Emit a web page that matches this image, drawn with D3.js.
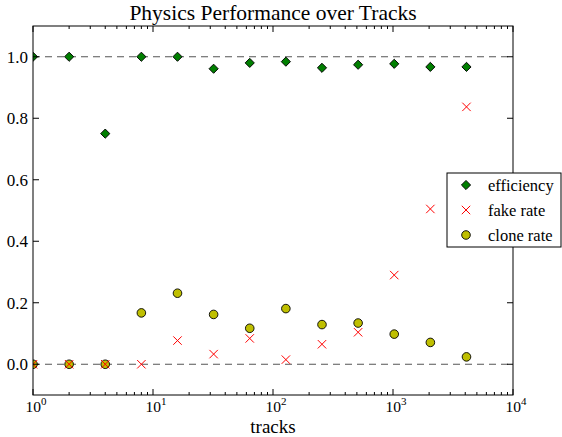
<!DOCTYPE html>
<html>
<head>
<meta charset="utf-8">
<script src="https://cdn.jsdelivr.net/npm/d3@7"></script>
<style>
  body { margin: 0; background: #fff; }
  text { font-family: "Liberation Serif", "DejaVu Serif", serif; }
</style>
</head>
<body>
<svg width="562" height="437"></svg>
<script>
const [WIDTH, HEIGHT] = [562, 437]

// data
const tracks = [1, 2, 4, 8, 16, 32, 64, 128, 256, 512, 1024, 2048, 4096]
const efficiency = [1.0, 1.0, 0.75, 1.0, 1.0, 0.961, 0.980, 0.984, 0.964, 0.974, 0.977, 0.967, 0.967]
const fakeRate = [0, 0, 0, 0, 0.077, 0.033, 0.084, 0.015, 0.065, 0.104, 0.290, 0.505, 0.837]
const cloneRate = [0, 0, 0, 0.167, 0.231, 0.162, 0.117, 0.181, 0.129, 0.134, 0.098, 0.071, 0.024]
const yTicks = [0.0, 0.2, 0.4, 0.6, 0.8, 1.0]
const xTicks = [1, 10, 100, 1000, 10000]
const refLines = [0, 1]
const legendItems = ["efficiency", "fake rate", "clone rate"]

const margin = { left: 33, right: 49, top: 26, bottom: 42 }
const pw = WIDTH - margin.left - margin.right
const ph = HEIGHT - margin.top - margin.bottom

const svg = d3.select("svg")
const x = d3.scaleLog().domain([1, 10000]).range([0, pw])
const y = d3.scaleLinear().domain([-0.1, 1.1]).range([ph, 0])

const g = svg.append("g").attr("transform", `translate(${margin.left},${margin.top})`)

svg.append("defs").append("clipPath").attr("id", "clip")
    .append("rect").attr("width", pw).attr("height", ph)

// minor ticks for log axis
const minor = []
for (let d = 1; d < 10000; d *= 10) {
    for (let k = 2; k <= 9; k++) minor.push(d * k)
}

// reference dashed lines
g.selectAll(".ref").data(refLines).enter().append("line")
    .attr("x1", 0).attr("x2", pw)
    .attr("y1", d => y(d)).attr("y2", d => y(d))
    .attr("stroke", "#555").attr("stroke-width", 1.2)
    .attr("stroke-dasharray", "7,5")

const plot = g.append("g").attr("clip-path", "url(#clip)")

// clone rate - yellow circles
plot.selectAll(".clone").data(tracks).enter().append("circle")
    .attr("cx", d => x(d)).attr("cy", (d, i) => y(cloneRate[i]))
    .attr("r", 4.3)
    .attr("fill", "#bfbf00").attr("stroke", "#000").attr("stroke-width", 0.9)

// fake rate - red crosses
const cross = d3.symbol().type(d3.symbolX).size(48)
plot.selectAll(".fake").data(tracks).enter().append("path")
    .attr("transform", (d, i) => `translate(${x(d)},${y(fakeRate[i])})`)
    .attr("d", cross)
    .attr("fill", "none").attr("stroke", "#ff0000").attr("stroke-width", 1)

// efficiency - green diamonds
const diamond = d3.symbol().type(d3.symbolSquare).size(42)
plot.selectAll(".eff").data(tracks).enter().append("path")
    .attr("transform", (d, i) => `translate(${x(d)},${y(efficiency[i])}) rotate(45)`)
    .attr("d", diamond)
    .attr("fill", "#007f00").attr("stroke", "#000").attr("stroke-width", 0.9)

// frame
g.append("rect").attr("width", pw).attr("height", ph)
    .attr("fill", "none").attr("stroke", "#000").attr("stroke-width", 1)

// ticks inward on all sides
const tickG = g.append("g").attr("stroke", "#000").attr("stroke-width", 1)
xTicks.forEach(t => {
    tickG.append("line").attr("x1", x(t)).attr("x2", x(t)).attr("y1", ph).attr("y2", ph - 6)
    tickG.append("line").attr("x1", x(t)).attr("x2", x(t)).attr("y1", 0).attr("y2", 6)
})
minor.forEach(t => {
    tickG.append("line").attr("x1", x(t)).attr("x2", x(t)).attr("y1", ph).attr("y2", ph - 3)
    tickG.append("line").attr("x1", x(t)).attr("x2", x(t)).attr("y1", 0).attr("y2", 3)
})
yTicks.forEach(t => {
    tickG.append("line").attr("x1", 0).attr("x2", 6).attr("y1", y(t)).attr("y2", y(t))
    tickG.append("line").attr("x1", pw).attr("x2", pw - 6).attr("y1", y(t)).attr("y2", y(t))
})

// y tick labels
g.selectAll(".ylab").data(yTicks).enter().append("text")
    .attr("x", -5).attr("y", d => y(d)).attr("dy", "0.35em")
    .attr("text-anchor", "end").attr("font-size", 17)
    .text(d => d.toFixed(1))

// x tick labels 10^n
const xl = g.selectAll(".xlab").data(xTicks).enter().append("text")
    .attr("x", d => x(d) + 3).attr("y", ph + 17)
    .attr("text-anchor", "middle").attr("font-size", 15.5)
xl.append("tspan").text("10")
xl.append("tspan").attr("dy", -7).attr("font-size", 11).text(d => Math.round(Math.log10(d)))

// axis label and title
svg.append("text").attr("x", margin.left + pw / 2).attr("y", HEIGHT - 4)
    .attr("text-anchor", "middle").attr("font-size", 19).text("tracks")
svg.append("text").attr("x", margin.left + pw / 2).attr("y", 20)
    .attr("text-anchor", "middle").attr("font-size", 21.5).text("Physics Performance over Tracks")

// legend
const lg = svg.append("g").attr("transform", "translate(447,173)")
lg.append("rect").attr("width", 114).attr("height", 74)
    .attr("fill", "#fff").attr("stroke", "#000").attr("stroke-width", 1)
const rows = lg.selectAll(".row").data(legendItems).enter().append("g")
    .attr("transform", (d, i) => `translate(0,${12 + i * 25})`)
rows.append("text").attr("x", 41).attr("dy", "0.35em").attr("font-size", 16.5).text(d => d)
rows.filter((d, i) => i === 0).append("path")
    .attr("transform", "translate(19,0) rotate(45)").attr("d", diamond)
    .attr("fill", "#007f00").attr("stroke", "#000").attr("stroke-width", 0.9)
rows.filter((d, i) => i === 1).append("path")
    .attr("transform", "translate(19,0)").attr("d", cross)
    .attr("fill", "none").attr("stroke", "#ff0000").attr("stroke-width", 1)
rows.filter((d, i) => i === 2).append("circle")
    .attr("cx", 19).attr("r", 4.3)
    .attr("fill", "#bfbf00").attr("stroke", "#000").attr("stroke-width", 0.9)
</script>
</body>
</html>
